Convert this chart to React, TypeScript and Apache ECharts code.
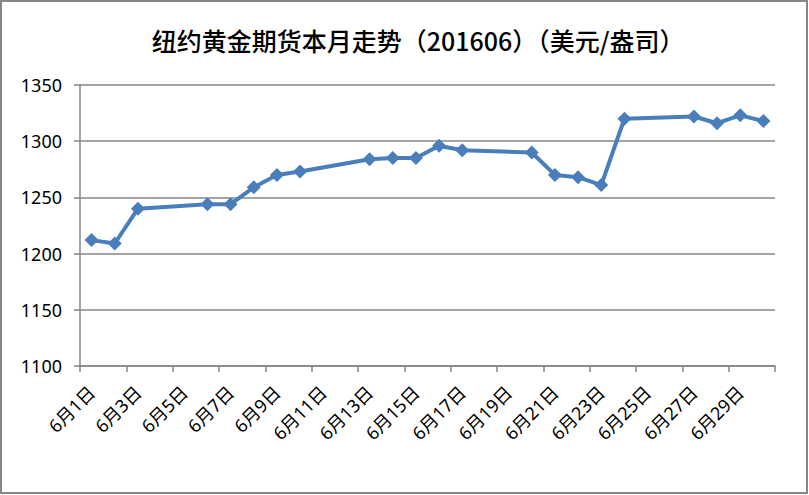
import React, { useEffect, useRef } from "react";
import * as echarts from "echarts";

const TITLE = "纽约黄金期货本月走势（201606）（美元/盎司）";
const DAYS: string[] = Array.from({ length: 30 }, (_, i) => `6月${i + 1}日`);
// trading days (day of month) and prices
const TRADE_DAYS = [1, 2, 3, 6, 7, 8, 9, 10, 13, 14, 15, 16, 17, 20, 21, 22, 23, 24, 27, 28, 29, 30];
const PRICES = [1212, 1209, 1240, 1244, 1244, 1259, 1270, 1273, 1284, 1285, 1285, 1296, 1292, 1290, 1270, 1268, 1261, 1320, 1322, 1316, 1323, 1318];
const Y_MIN = 1100;
const Y_MAX = 1350;
const Y_STEP = 50;

export default function App() {
  const ref = useRef<HTMLDivElement>(null);
  useEffect(() => {
    document.body.style.margin = "0";
    const chart = echarts.init(ref.current!, undefined, { renderer: "svg" });
    const seriesData: (number | null)[] = DAYS.map(() => null);
    TRADE_DAYS.forEach((d, i) => {
      seriesData[d - 1] = PRICES[i];
    });
    chart.setOption({
      animation: false,
      backgroundColor: "#ffffff",
      title: {
        text: TITLE,
        left: 413,
        top: 22,
        textAlign: "center",
        textStyle: {
          fontFamily: "'Noto Sans CJK SC', sans-serif",
          fontSize: 25,
          fontWeight: 500,
          color: "#000000",
        },
      },
      graphic: [
        {
          type: "rect",
          shape: { x: 1, y: 1, width: 806, height: 492 },
          style: { fill: "none", stroke: "#868686", lineWidth: 2 },
          silent: true,
        },
      ],
      grid: { left: 80, right: 34, top: 85, bottom: 129, containLabel: false },
      xAxis: {
        type: "category",
        data: DAYS,
        boundaryGap: true,
        axisLine: { show: true, lineStyle: { color: "#868686", width: 1.5 } },
        axisTick: { show: true, interval: 1, length: 6, lineStyle: { color: "#868686", width: 1.5 } },
        axisLabel: {
          interval: 1,
          rotate: 45,
          margin: 23,
          color: "#000000",
          fontSize: 18,
          fontFamily: "'Noto Sans', 'Noto Sans CJK SC', sans-serif",
        },
        splitLine: { show: false },
      },
      yAxis: {
        type: "value",
        min: Y_MIN,
        max: Y_MAX,
        interval: Y_STEP,
        axisLine: { show: true, lineStyle: { color: "#868686", width: 1.5 } },
        axisTick: { show: true, length: 6, lineStyle: { color: "#868686", width: 1.5 } },
        axisLabel: {
          margin: 18,
          color: "#000000",
          fontSize: 18,
          fontFamily: "'Noto Sans', sans-serif",
          formatter: (v: number) => String(v),
        },
        splitLine: { show: true, lineStyle: { color: "#868686", width: 1.5 } },
      },
      series: [
        {
          type: "line",
          data: seriesData,
          connectNulls: true,
          symbol: "diamond",
          symbolSize: 14,
          lineStyle: { color: "#4A7EBB", width: 4 },
          itemStyle: { color: "#4A7EBB" },
        },
      ],
    });
    return () => chart.dispose();
  }, []);
  return <div ref={ref} style={{ width: 809, height: 495 }} />;
}
